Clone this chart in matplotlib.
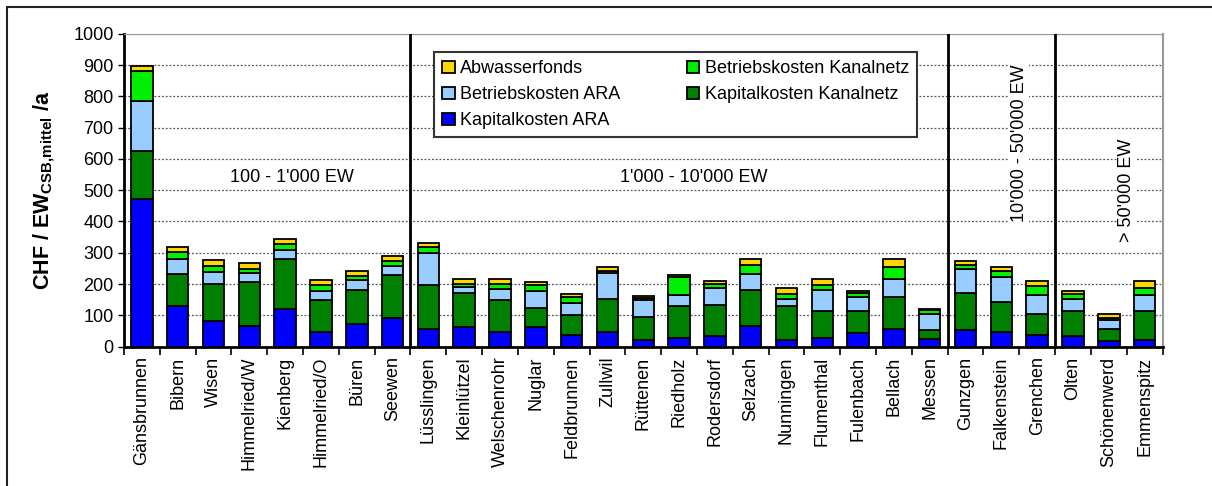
import numpy as np
import matplotlib
matplotlib.use("Agg")
import matplotlib.pyplot as plt
from matplotlib.patches import Rectangle

plt.rcParams["font.family"] = ["Liberation Sans", "DejaVu Sans"]
plt.rcParams["mathtext.fontset"] = "custom"
plt.rcParams["mathtext.rm"] = "Liberation Sans"
plt.rcParams["mathtext.bf"] = "Liberation Sans:bold"

# ---- data (CHF / EW / a) ----
orte = ["Gänsbrunnen", "Bibern", "Wisen", "Himmelried/W", "Kienberg", "Himmelried/O",
        "Büren", "Seewen", "Lüsslingen", "Kleinlützel", "Welschenrohr", "Nuglar",
        "Feldbrunnen", "Zullwil", "Rüttenen", "Riedholz", "Rodersdorf", "Selzach",
        "Nunningen", "Flumenthal", "Fulenbach", "Bellach", "Messen", "Gunzgen",
        "Falkenstein", "Grenchen", "Olten", "Schönenwerd", "Emmenspitz"]

kap_ara = [472, 130, 81, 66, 120, 48, 73, 93, 58, 63, 48, 63, 38, 48, 23, 29, 33, 67,
           23, 29, 44, 58, 26, 53, 48, 38, 34, 19, 23]
kap_kanal = [153, 101, 120, 141, 159, 100, 109, 135, 139, 110, 101, 62, 63, 105, 73,
             101, 101, 115, 107, 86, 71, 101, 27, 120, 96, 67, 81, 39, 92]
betr_ara = [160, 48, 39, 29, 30, 30, 30, 29, 101, 19, 34, 53, 39, 81, 53, 34, 53, 49,
            23, 66, 45, 56, 53, 76, 78, 59, 38, 28, 49]
betr_kanal = [97, 22, 19, 13, 18, 19, 13, 17, 19, 8, 17, 18, 18, 8, 8, 58, 12, 29,
              15, 15, 10, 41, 11, 12, 19, 30, 14, 7, 23]
abwasserfonds = [16, 17, 17, 17, 16, 15, 17, 16, 15, 17, 17, 11, 10, 14, 6, 8, 11, 19,
                 19, 21, 9, 24, 4, 14, 15, 17, 11, 13, 24]

series = [("Kapitalkosten ARA", kap_ara, "#0000FF"),
          ("Kapitalkosten Kanalnetz", kap_kanal, "#008000"),
          ("Betriebskosten ARA", betr_ara, "#99CCFF"),
          ("Betriebskosten Kanalnetz", betr_kanal, "#00EE00"),
          ("Abwasserfonds", abwasserfonds, "#FFD700")]

gruppen_grenzen = [8, 23, 26]   # separator after Seewen, Messen, Grenchen

fig = plt.figure(figsize=(12.12, 4.86), dpi=100)
ax = fig.add_axes([124 / 1212, 1 - 346.7 / 486, 1038.5 / 1212, 313 / 486])

x = np.arange(len(orte))
bottom = np.zeros(len(orte))
bars = {}
for name, vals, col in series:
    bars[name] = ax.bar(x, vals, 0.6, bottom=bottom, color=col, edgecolor="black",
                        linewidth=1.3, label=name, zorder=3)
    bottom += np.array(vals)

ax.set_xlim(-0.5, len(orte) - 0.5)
ax.set_ylim(0, 1000)
ax.set_yticks(range(0, 1001, 100))
ax.yaxis.grid(True, color="#555555", ls=(0, (1.5, 1.5)), lw=0.9, zorder=0)
ax.tick_params(axis="y", labelsize=13, length=4, width=1, direction="out")

ax.set_xticks(x)
ax.set_xticklabels(orte, rotation=90, fontsize=13)
ax.tick_params(axis="x", length=0, pad=7)
ax.set_xticks(np.arange(-0.5, len(orte)), minor=True)
ax.tick_params(axis="x", which="minor", length=6, width=1.2)

for s in ["left", "bottom"]:
    ax.spines[s].set_linewidth(2)
ax.spines["top"].set_color("#999999")
ax.spines["right"].set_color("#999999")
ax.spines["right"].set_linewidth(1.5)

for g in gruppen_grenzen:
    ax.axvline(g - 0.5, color="black", lw=2, zorder=4)

ax.set_ylabel(r"CHF / EW$_{\mathbf{CSB{,}mittel}}$ /a", fontsize=15.5,
              fontweight="bold", labelpad=12)

ax.text(4.2, 540, "100 - 1'000 EW", fontsize=13, ha="center", va="center")
ax.text(15.4, 540, "1'000 - 10'000 EW", fontsize=13, ha="center", va="center")
ax.text(24.5, 650, "10'000 - 50'000 EW", fontsize=13, ha="center", va="center",
        rotation=90, bbox=dict(fc="white", ec="none", pad=1), zorder=5)
ax.text(27.5, 500, "> 50'000 EW", fontsize=13, ha="center", va="center",
        rotation=90, bbox=dict(fc="white", ec="none", pad=1), zorder=5)

order = ["Abwasserfonds", "Betriebskosten ARA", "Kapitalkosten ARA",
         "Betriebskosten Kanalnetz", "Kapitalkosten Kanalnetz"]
leg = ax.legend([bars[n] for n in order], order, ncol=2, fontsize=13,
                loc="upper left", bbox_to_anchor=(0.29, 0.97), frameon=True,
                fancybox=False, edgecolor="#333333", framealpha=1,
                handlelength=0.7, handleheight=0.7, handletextpad=0.3,
                columnspacing=3.65, labelspacing=0.5, borderpad=0.45)
leg.get_frame().set_linewidth(1.5)
leg.set_zorder(6)

# outer chart frame
fig.patches.append(Rectangle((7 / 1212, -0.1), 1.2, (486 - 7) / 486 + 0.1,
                             transform=fig.transFigure, fill=False,
                             edgecolor="#222222", lw=1.5))

fig.savefig("out.png", dpi=100)
